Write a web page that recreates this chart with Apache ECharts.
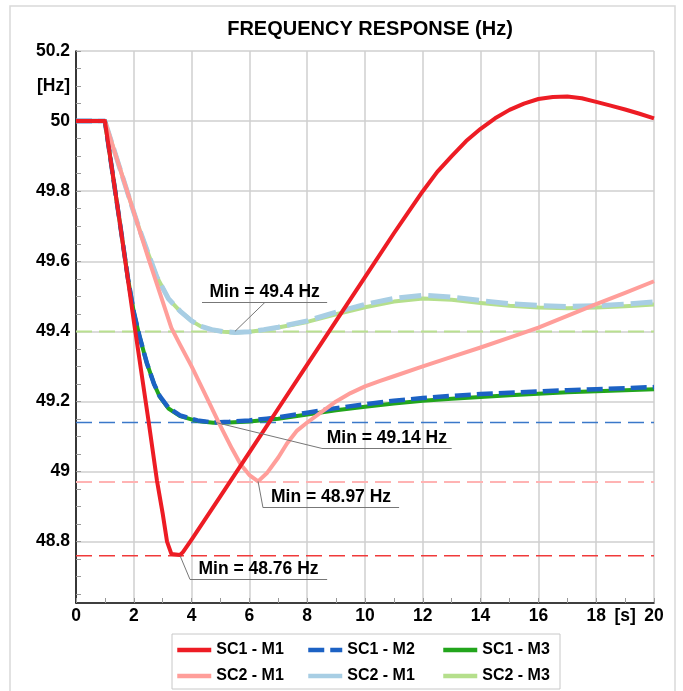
<!DOCTYPE html>
<html><head><meta charset="utf-8">
<script src="https://cdn.jsdelivr.net/npm/echarts@6/dist/echarts.min.js"></script>
<style>html,body{margin:0;padding:0;background:#fff}#c{width:683px;height:691px}</style>
</head><body><div id="c"></div><script>
// ---------- data ----------
const sc1m1 = [[0,50],[1,50],[1.5,49.72],[2,49.43],[2.5,49.15],[2.8,48.975],[3.0,48.88],[3.15,48.8],[3.3,48.765],[3.6,48.762],[3.7,48.77],[4,48.806],[5,48.93],[6,49.055],[7,49.18],[8,49.305],[9,49.43],[10,49.555],[11,49.68],[11.5,49.74],[12,49.80],[12.5,49.855],[13,49.9],[13.5,49.943],[14,49.978],[14.5,50.008],[15,50.032],[15.5,50.05],[16,50.063],[16.5,50.069],[17,50.07],[17.5,50.065],[18,50.055],[18.5,50.044],[19,50.033],[19.5,50.021],[20,50.008]];
const sc1m2 = [[0,50],[1,50],[1.5,49.72],[1.8,49.55],[2,49.455],[2.2,49.385],[2.45,49.31],[2.7,49.25],[2.9,49.215],[3.2,49.182],[3.6,49.16],[4.2,49.146],[4.75,49.14],[5.3,49.142],[6,49.146],[6.6,49.151],[7,49.155],[8,49.168],[9,49.181],[10,49.192],[11,49.202],[12,49.21],[13,49.216],[14,49.221],[15,49.225],[16,49.229],[17,49.232],[18,49.235],[19,49.238],[20,49.241]];
const sc1m3 = [[0,50],[1,50],[1.5,49.72],[1.8,49.55],[2,49.455],[2.2,49.385],[2.45,49.31],[2.7,49.25],[2.9,49.213],[3.2,49.18],[3.6,49.158],[4.2,49.144],[4.75,49.139],[5.3,49.14],[6,49.143],[7,49.151],[8,49.163],[9,49.175],[10,49.185],[11,49.194],[12,49.202],[13,49.208],[14,49.213],[15,49.218],[16,49.222],[17,49.226],[18,49.229],[19,49.232],[20,49.235]];
const sc2m1 = [[0,50],[1,50],[1.5,49.87],[2,49.74],[2.5,49.61],[3,49.485],[3.3,49.41],[3.6,49.362],[4,49.30],[4.5,49.215],[5,49.13],[5.4,49.065],[5.7,49.02],[6,48.99],[6.3,48.972],[6.6,48.995],[7,49.04],[7.3,49.08],[7.65,49.117],[8,49.14],[8.5,49.17],[9,49.2],[9.5,49.224],[10,49.243],[10.5,49.258],[11,49.272],[12,49.30],[13,49.327],[14,49.354],[15,49.382],[16,49.411],[17,49.444],[18,49.478],[19,49.51],[20,49.543]];
const sc2m1b = [[0,50],[1,50],[1.5,49.87],[2,49.74],[2.2,49.69],[2.5,49.622],[2.8,49.555],[3.2,49.493],[3.6,49.458],[4,49.43],[4.3,49.415],[4.7,49.405],[5.1,49.399],[5.5,49.397],[6,49.399],[6.5,49.405],[7,49.412],[8,49.43],[9,49.455],[10,49.477],[11,49.494],[12,49.503],[13,49.498],[14,49.488],[15,49.479],[16,49.474],[17,49.471],[18,49.473],[19,49.478],[20,49.484]];
const sc2m3 = [[0,50],[1,50],[1.5,49.87],[2,49.74],[2.2,49.69],[2.5,49.622],[2.8,49.555],[3.2,49.493],[3.6,49.458],[4,49.43],[4.3,49.415],[4.7,49.405],[5.1,49.399],[5.5,49.397],[6,49.399],[6.5,49.404],[7,49.411],[8,49.427],[9,49.449],[10,49.469],[11,49.485],[12,49.494],[13,49.49],[14,49.481],[15,49.473],[16,49.468],[17,49.466],[18,49.468],[19,49.472],[20,49.477]];
const minLevels = [49.4, 49.14, 48.97, 48.76];
const minTexts = ['Min = 49.4 Hz','Min = 49.14 Hz','Min = 48.97 Hz','Min = 48.76 Hz'];
const xLabelValues = [0,2,4,6,8,10,12,14,16,18,19,20];
const xLabelTexts = ['0','2','4','6','8','10','12','14','16','18','[s]','20'];
const yLabelValues = [48.8,49,49.2,49.4,49.6,49.8,50,50.1,50.2];
const yLabelTexts = ['48.8','49','49.2','49.4','49.6','49.8','50','[Hz]','50.2'];
const yGridValues = [48.8,49,49.2,49.4,49.6,49.8,50,50.2];
const yMinorTicks = [48.65,48.7,48.75,48.8,48.85,48.9,48.95,49,49.05,49.1,49.15,49.2,49.25,49.3,49.35,49.4,49.45,49.5,49.55,49.6,49.65,49.7,49.75,49.8,49.85,49.9,49.95,50,50.05,50.1,50.15,50.2];

// annotation layout (data coordinates): min point, joint on underline, underline x-range, underline level
const annotLayout = [
  {pt:[5.5,49.4],  joint:[6.54,49.483], ux:[4.36,8.69], uy:49.483},
  {pt:[4.84,49.14],joint:[8.51,49.066], ux:[8.51,13.0], uy:49.066},
  {pt:[6.3,48.972],joint:[6.47,48.897], ux:[6.47,11.18],uy:48.897},
  {pt:[3.6,48.76], joint:[3.94,48.693], ux:[3.94,8.69], uy:48.693}
];

const FONT = "'Liberation Sans', Arial, sans-serif";
const refColors = ['#b9e08f','#3a78c9','#ffb3b3','#f03a3a'];
const refWidths = [2,1.5,2,1.5];

function lookup(vals, texts){
  return function(v){
    for (let i=0;i<vals.length;i++) if (Math.abs(vals[i]-v)<1e-6) return texts[i];
    return '';
  };
}

const chart = echarts.init(document.getElementById('c'));

const series = [];
minLevels.forEach((lv,i)=>{
  series.push({type:'line', name:'ref'+i, data:[[0,lv],[20,lv]], symbol:'none', silent:true,
    lineStyle:{color:refColors[i], width:refWidths[i], type:[16,7]}, z:1});
});
function curve(name, data, color, width, type){
  return {type:'line', name, data, symbol:'none', silent:true,
    lineStyle:{color, width, type: type||'solid', cap:'butt', join:'round'}, itemStyle:{color}, z:2};
}
series.push(curve('SC2 - M3', sc2m3, '#b5df8c', 4));
series.push(curve('SC2 - M1 ', sc2m1b, '#a8cee4', 5, [22,7]));
series.push(curve('SC1 - M3', sc1m3, '#22a51c', 4));
series.push(curve('SC1 - M2', sc1m2, '#1c62c4', 4.5, [16,6]));
series.push(curve('SC2 - M1', sc2m1, '#ff9e9a', 4));
series.push(curve('SC1 - M1', sc1m1, '#ed1c24', 4));

const mlData = [];
annotLayout.forEach((a,i)=>{
  mlData.push([{coord:[a.ux[0],a.uy], label:{show:true, formatter:minTexts[i], position:'insideMiddleTop', distance:1,
      color:'#000', fontFamily:FONT, fontWeight:'bold', fontSize:17.5}}, {coord:[a.ux[1],a.uy]}]);
  mlData.push([{coord:a.pt}, {coord:a.joint}]);
});
series.push({type:'line', name:'annot', data:[], symbol:'none', silent:true, z:5,
  markLine:{silent:true, symbol:['none','none'], animation:false,
    lineStyle:{color:'#777', width:1, type:'solid'}, label:{show:false}, emphasis:{disabled:true}, data:mlData}});

const legendCommon = {orient:'vertical', top:642, height:50, padding:0, itemWidth:34, itemHeight:14, itemGap:10, selectedMode:false,
  itemStyle:{opacity:0}, lineStyle:{width:4.5},
  textStyle:{fontFamily:FONT, fontWeight:'bold', fontSize:16, color:'#000'}, formatter:n=>n.trim()};

chart.setOption({
  animation:false,
  backgroundColor:'#fff',
  title:{text:'FREQUENCY RESPONSE (Hz)', left:365, textAlign:'center', top:14,
    textStyle:{fontFamily:FONT, fontWeight:'bold', fontSize:20, color:'#000'}},
  grid:[{left:76,right:29,top:51,bottom:88},{left:76,right:29,top:51,bottom:88}],
  xAxis:[{type:'value', gridIndex:0, min:0, max:20, interval:2,
      axisLine:{lineStyle:{color:'#000', width:1.5}},
      axisTick:{inside:true, length:5, lineStyle:{color:'#999'}},
      minorTick:{show:true, splitNumber:2, length:5, lineStyle:{color:'#999'}},
      splitLine:{show:true, lineStyle:{color:'#cfcfcf', width:1.5}},
      axisLabel:{customValues:xLabelValues, formatter:lookup(xLabelValues,xLabelTexts), margin:4,
        fontFamily:FONT, fontWeight:'bold', fontSize:17.5, color:'#000'}},
    {type:'value', gridIndex:1, min:0, max:20, show:false}],
  yAxis:[{type:'value', gridIndex:0, min:48.625, max:50.2,
      axisLine:{show:true, lineStyle:{color:'#000', width:1.5}},
      axisTick:{show:false, customValues:yGridValues},
      splitLine:{show:true, lineStyle:{color:'#cfcfcf', width:1.5}},
      axisLabel:{customValues:yLabelValues, formatter:lookup(yLabelValues,yLabelTexts), margin:6,
        fontFamily:FONT, fontWeight:'bold', fontSize:17.5, color:'#000'}},
    {type:'value', gridIndex:1, min:48.625, max:50.2,
      axisLine:{show:false}, splitLine:{show:false}, axisLabel:{show:false},
      axisTick:{show:true, inside:true, length:5, customValues:yMinorTicks, lineStyle:{color:'#999'}}}],
  legend:[
    Object.assign({left:175, data:['SC1 - M1','SC2 - M1']}, legendCommon),
    Object.assign({left:306, data:['SC1 - M2',{name:'SC2 - M1 ', lineStyle:{type:'solid'}}]}, legendCommon),
    Object.assign({left:441, data:['SC1 - M3','SC2 - M3']}, legendCommon)
  ],
  graphic:[
    {type:'rect', shape:{x:10,y:6,width:665,height:700}, style:{fill:'none', stroke:'#d9d9d9', lineWidth:1.5}, silent:true},
    {type:'rect', shape:{x:172,y:634,width:388,height:55}, style:{fill:'none', stroke:'#c8c8c8', lineWidth:1}, silent:true}
  ],
  series
});
</script></body></html>
